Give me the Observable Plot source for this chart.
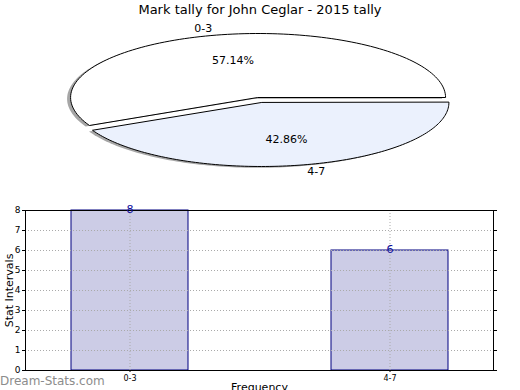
<!DOCTYPE html>
<html><head><meta charset="utf-8">
<script src="https://cdn.jsdelivr.net/npm/d3@7"></script>
<script src="https://cdn.jsdelivr.net/npm/@observablehq/plot@0.6"></script>
<style>
body{margin:0;background:#fff;}
#wrap{position:relative;width:520px;height:390px;overflow:hidden;background:#fff;font-family:"DejaVu Sans",sans-serif;}
#pie{position:absolute;left:0;top:0;}
#bar{position:absolute;left:0;top:195px;}
#title{position:absolute;left:0;top:2px;width:520px;text-align:center;font-size:13px;line-height:16px;color:#000;}
#wm{position:absolute;left:0;top:373px;font-size:12px;color:#8c8c8c;line-height:16px;}
</style></head><body>
<div id="wrap"><div id="pie"></div><div id="bar"></div><div id="title"></div><div id="wm"></div></div>
<script>
// ---- data ----
const titleText = "Mark tally for John Ceglar - 2015 tally";
const categories = ["0-3", "4-7"];
const counts = [8, 6];
const yTicks = [0, 1, 2, 3, 4, 5, 6, 7, 8];
const xLabel = "Frequency";
const yLabel = "Stat Intervals";
const watermark = "Dream-Stats.com";

document.getElementById("title").textContent = titleText;
document.getElementById("wm").textContent = watermark;

// ---- pie geometry (from data) ----
const sliceFill = ["#ffffff", "#ebf1fd"];
const explode = 0.04;
const total = d3.sum(counts);
let acc = 0;
const slices = categories.map((c, i) => {
  const a0 = acc / total * 2 * Math.PI;
  acc += counts[i];
  const a1 = acc / total * 2 * Math.PI;
  const mid = (a0 + a1) / 2;
  const ox = explode * Math.cos(mid), oy = explode * Math.sin(mid);
  const pts = [{x: ox, y: oy}];
  const n = 120;
  for (let k = 0; k <= n; k++) {
    const a = a0 + (a1 - a0) * k / n;
    pts.push({x: ox + Math.cos(a), y: oy + Math.sin(a)});
  }
  return {
    label: c, fill: sliceFill[i], pts, mid, ox, oy,
    pct: (counts[i] / total * 100).toFixed(2) + "%"
  };
});
const outerLabels = slices.map(s => ({
  label: s.label, x: s.ox + 1.1 * Math.cos(s.mid), y: s.oy + 1.1 * Math.sin(s.mid), left: Math.cos(s.mid) < 0
}));
const pctLabels = slices.map(s => ({
  text: s.pct, x: s.ox + 0.6 * Math.cos(s.mid), y: s.oy + 0.6 * Math.sin(s.mid)
}));

const cx = 259.25, cy = 99.5, rx = 187.5, ry = 64;
const pie = Plot.plot({
  width: 520, height: 195, margin: 0,
  style: {fontFamily: "DejaVu Sans", fontSize: "11px", background: "transparent"},
  x: {domain: [-1, 1], range: [cx - rx, cx + rx], axis: null},
  y: {domain: [-1, 1], range: [cy + ry, cy - ry], axis: null},
  marks: [
    ...slices.map(s => Plot.line(s.pts, {x: "x", y: "y", curve: "linear-closed", fill: "#4d4d4d", fillOpacity: 0.5, stroke: "none", dx: -3.5, dy: 1.3})),
    ...slices.map(s => Plot.line(s.pts, {x: "x", y: "y", curve: "linear-closed", fill: s.fill, stroke: "#000", strokeWidth: 1})),
    Plot.text(outerLabels.filter(d => d.left), {x: "x", y: "y", text: "label", textAnchor: "end", fill: "#000"}),
    Plot.text(outerLabels.filter(d => !d.left), {x: "x", y: "y", text: "label", textAnchor: "start", fill: "#000"}),
    Plot.text(pctLabels, {x: "x", y: "y", text: "text", fill: "#000"})
  ]
});
document.getElementById("pie").appendChild(pie);

// ---- bar chart ----
const barData = categories.map((c, i) => ({cat: c, count: counts[i]}));
const bar = Plot.plot({
  width: 520, height: 195,
  marginTop: 15, marginBottom: 20, marginLeft: 25, marginRight: 27,
  style: {fontFamily: "DejaVu Sans", fontSize: "9px", background: "transparent", overflow: "visible"},
  x: {domain: categories, paddingInner: 0.55, paddingOuter: 0.175, round: true, axis: null},
  y: {domain: [yTicks[0], yTicks[yTicks.length - 1]], axis: null},
  marks: [
    Plot.barY(barData, {x: "cat", y: "count", fill: "#ccccE6", stroke: "#000080", strokeWidth: 1}),
    Plot.ruleY(yTicks.slice(1, -1), {y: d => d, stroke: "#aaa", strokeDasharray: "1,2"}),
    Plot.ruleX(categories, {x: d => d, stroke: "#aaa", strokeDasharray: "1,2"}),
    Plot.frame({stroke: "#000", strokeWidth: 1}),
    Plot.axisY({ticks: yTicks, tickSize: 3, tickPadding: 2, label: null, fontSize: 9}),
    Plot.axisY({anchor: "right", ticks: yTicks, tickSize: 3, tickFormat: () => "", label: null}),
    Plot.axisX({tickSize: 2, tickPadding: 3, label: null, fontSize: 8}),
    Plot.text(barData, {x: "cat", y: "count", text: d => String(d.count), lineAnchor: "bottom", dy: 2, fill: "#10109c", fontSize: 11}),
    Plot.text([yLabel], {frameAnchor: "left", textAnchor: "middle", rotate: -90, dx: -16, fontSize: 11, fill: "#000"}),
    Plot.text([xLabel], {frameAnchor: "bottom", textAnchor: "middle", lineAnchor: "top", dy: 13, fontSize: 11, fill: "#000"})
  ]
});
document.getElementById("bar").appendChild(bar);
</script>
</body></html>
